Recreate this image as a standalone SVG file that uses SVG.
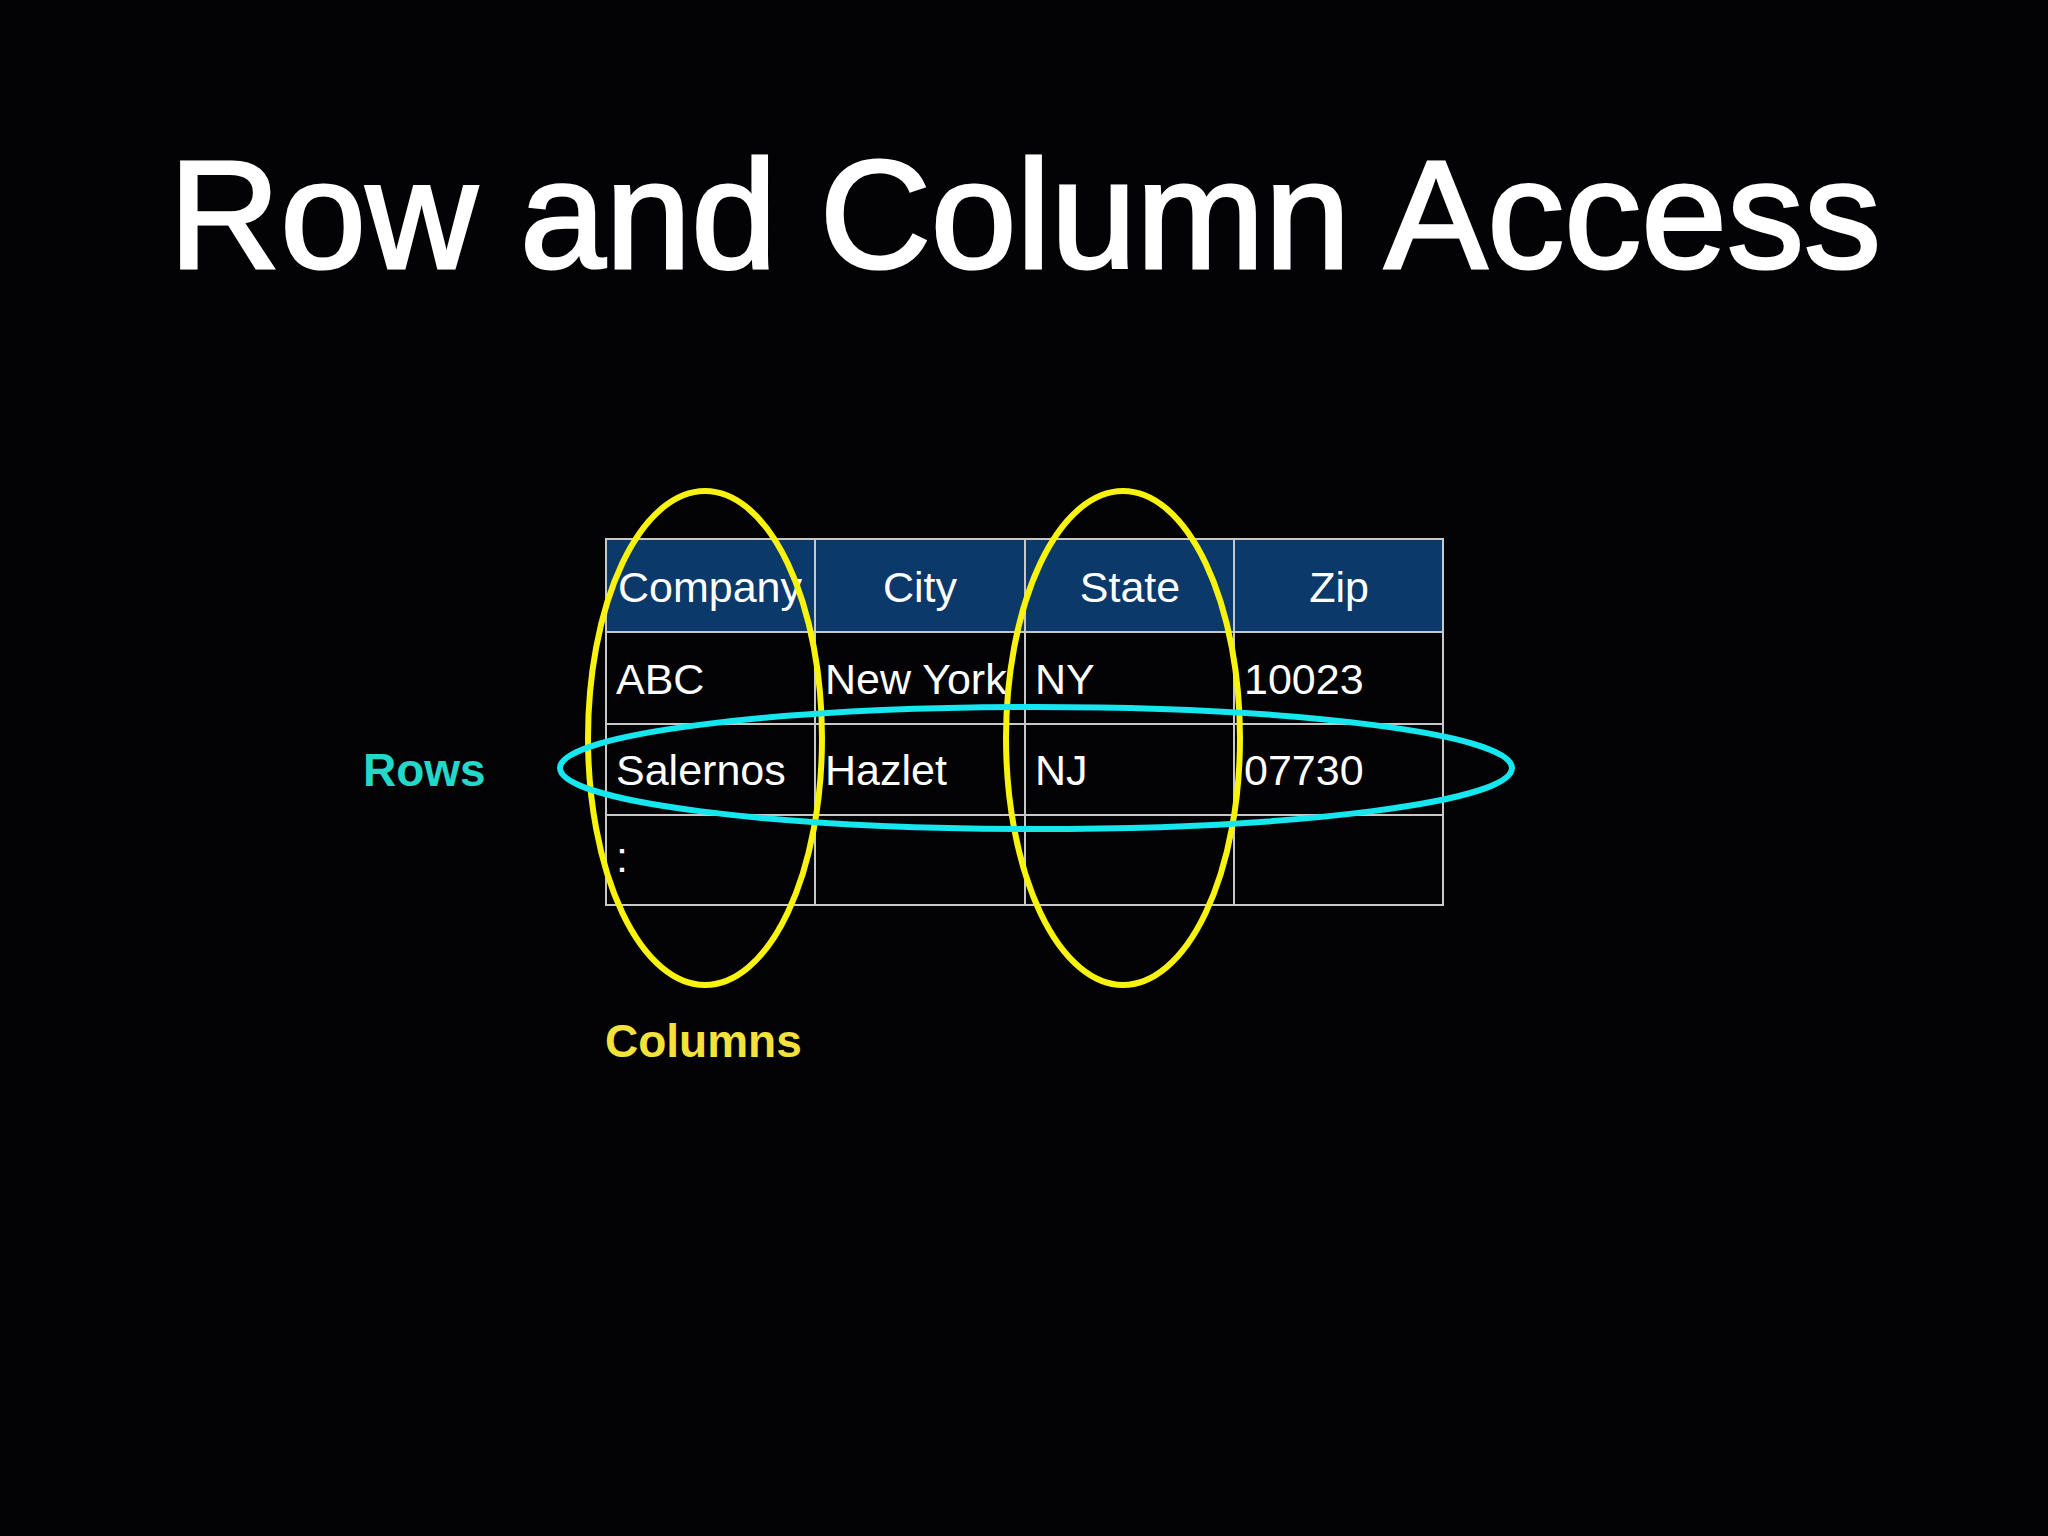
<svg xmlns="http://www.w3.org/2000/svg" width="2048" height="1536" viewBox="0 0 2048 1536">
<style>
.t{font-family:"Liberation Sans",Arial,sans-serif;fill:#fff;font-size:43px}
.h{text-anchor:middle}
.g{stroke:#c8c8c8;stroke-width:2;fill:none}
.lab{font-family:"Liberation Sans",Arial,sans-serif;font-weight:bold;font-size:46px}
</style>
<rect width="2048" height="1536" fill="#030305"/>
<text x="1025" y="268" text-anchor="middle" font-family="Liberation Sans,Arial,sans-serif" font-size="154" fill="#fff" stroke="#fff" stroke-width="3">Row and Column Access</text>
<g id="table">
<rect x="606" y="539" width="837" height="93" fill="#0b3a6a"/>
<g class="g">
<rect x="606" y="539" width="837" height="366"/>
<line x1="606" y1="632" x2="1443" y2="632"/>
<line x1="606" y1="724" x2="1443" y2="724"/>
<line x1="606" y1="815" x2="1443" y2="815"/>
<line x1="815" y1="539" x2="815" y2="905"/>
<line x1="1025" y1="539" x2="1025" y2="905"/>
<line x1="1234" y1="539" x2="1234" y2="905"/>
</g>
<text class="t h" x="710" y="602">Company</text>
<text class="t h" x="920" y="602">City</text>
<text class="t h" x="1130" y="602">State</text>
<text class="t h" x="1339" y="602">Zip</text>
<text class="t" x="616" y="694">ABC</text>
<text class="t" x="825" y="694">New York</text>
<text class="t" x="1035" y="694">NY</text>
<text class="t" x="1244" y="694">10023</text>
<text class="t" x="616" y="785">Salernos</text>
<text class="t" x="825" y="785">Hazlet</text>
<text class="t" x="1035" y="785">NJ</text>
<text class="t" x="1244" y="785">07730</text>
<text class="t" x="616" y="872">:</text>
</g>
<g id="highlights" fill="none" stroke-width="6">
<ellipse cx="705" cy="738" rx="117" ry="247" stroke="#f7f20e"/>
<ellipse cx="1123" cy="738" rx="117" ry="247" stroke="#f7f20e"/>
<ellipse cx="1036" cy="768" rx="476" ry="61" stroke="#16e6ee"/>
</g>
<text class="lab" x="363" y="786" fill="#22d8c8">Rows</text>
<text class="lab" x="605" y="1057" fill="#f3e23a">Columns</text>
</svg>
